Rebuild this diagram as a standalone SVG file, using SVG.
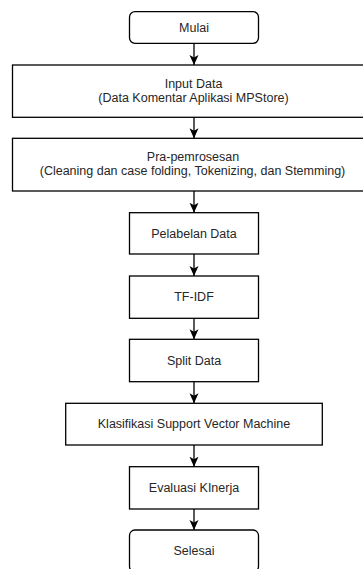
<svg xmlns="http://www.w3.org/2000/svg" width="363" height="569" viewBox="0 0 363 569">
  <style>
    .box { fill: #ffffff; stroke: #000000; stroke-width: 1.3; }
    .lbl { font-family: "Liberation Sans", Arial, Helvetica, sans-serif; font-size: 12.5px; fill: #262626; text-anchor: middle; }
    .edge { fill: none; stroke: #000000; stroke-width: 1.3; marker-end: url(#arrow); }
  </style>
  <defs>
    <marker id="arrow" viewBox="0 0 10 10" refX="10" refY="5" markerWidth="10" markerHeight="10" markerUnits="userSpaceOnUse" orient="auto">
      <path d="M0,0.5 L10,5 L0,9.5 L2.5,5 Z" fill="#000000"/>
    </marker>
  </defs>
  <rect width="363" height="569" fill="#ffffff"/>

  <g id="mulai">
    <rect class="box" x="129.5" y="11.7" width="129" height="31.6" rx="5.5"/>
    <text class="lbl" x="194" y="31.8">Mulai</text>
  </g>

  <g id="input-data">
    <rect class="box" x="12.5" y="65" width="360" height="52.3"/>
    <text class="lbl" x="193.5" y="87.6">Input Data</text>
    <text class="lbl" x="193.5" y="101.6">(Data Komentar Aplikasi MPStore)</text>
  </g>

  <g id="pra-pemrosesan">
    <rect class="box" x="12.5" y="138.3" width="360" height="52.7"/>
    <text class="lbl" x="193" y="161">Pra-pemrosesan</text>
    <text class="lbl" x="192.5" y="175.4">(Cleaning dan case folding, Tokenizing, dan Stemming)</text>
  </g>

  <g id="pelabelan-data">
    <rect class="box" x="129.5" y="212.7" width="129" height="41.3"/>
    <text class="lbl" x="194" y="237.6">Pelabelan Data</text>
  </g>

  <g id="tf-idf">
    <rect class="box" x="129.5" y="276" width="129" height="42.3"/>
    <text class="lbl" x="194" y="301.4">TF-IDF</text>
  </g>

  <g id="split-data">
    <rect class="box" x="129.5" y="339.3" width="129" height="42.4"/>
    <text class="lbl" x="194" y="364.8">Split Data</text>
  </g>

  <g id="klasifikasi-svm">
    <rect class="box" x="65.7" y="403.3" width="256.6" height="41.7"/>
    <text class="lbl" x="194" y="428.4">Klasifikasi Support Vector Machine</text>
  </g>

  <g id="evaluasi-kinerja">
    <rect class="box" x="129.5" y="466.7" width="129" height="42.3"/>
    <text class="lbl" x="194" y="492">Evaluasi KInerja</text>
  </g>

  <g id="selesai">
    <rect class="box" x="129.5" y="530" width="129" height="42" rx="5.5"/>
    <text class="lbl" x="194" y="555.2">Selesai</text>
  </g>

  <g id="connectors">
    <line class="edge" x1="194" y1="43.3" x2="194" y2="65"/>
    <line class="edge" x1="194" y1="117.3" x2="194" y2="138.3"/>
    <line class="edge" x1="194" y1="191" x2="194" y2="212.7"/>
    <line class="edge" x1="194" y1="254" x2="194" y2="276"/>
    <line class="edge" x1="194" y1="318.3" x2="194" y2="339.3"/>
    <line class="edge" x1="194" y1="381.7" x2="194" y2="403.3"/>
    <line class="edge" x1="194" y1="445" x2="194" y2="466.7"/>
    <line class="edge" x1="194" y1="509" x2="194" y2="530"/>
  </g>
</svg>
